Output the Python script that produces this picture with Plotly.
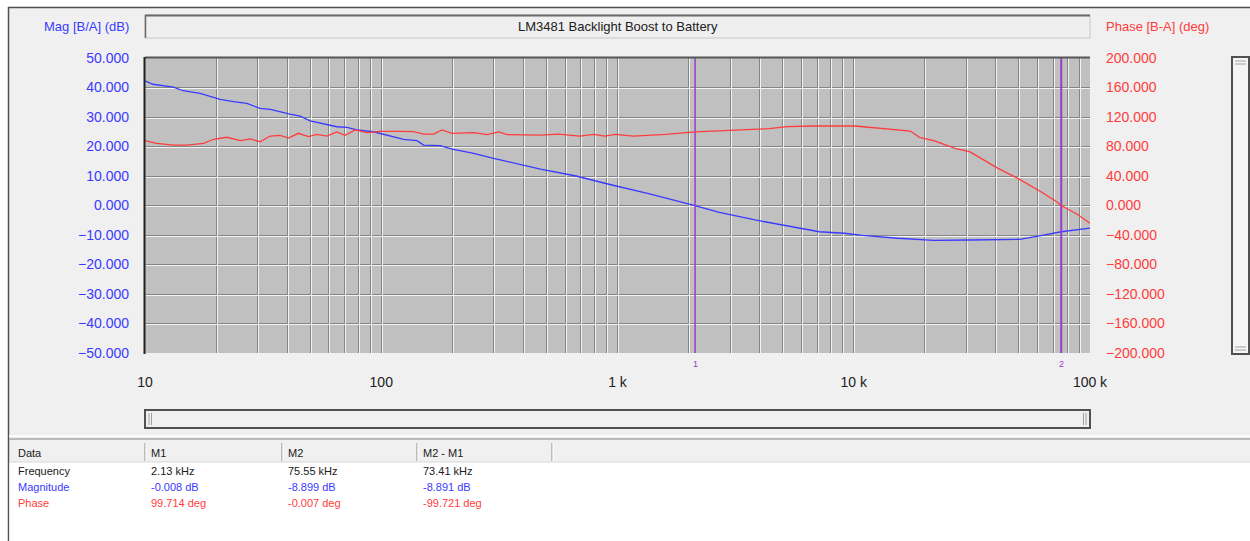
import numpy as np
import plotly.graph_objects as go

# magnitude curve (Hz, dB)
mag_freq = [10, 10.8, 13.2, 14.5, 17.1, 20.8, 23.7, 27.0, 30.7, 33.9, 41.1, 45.4, 50.0, 58.9,
            64.9, 71.6, 78.9, 92.7, 105.7, 124.3, 141.6, 151.1, 177.8, 199.4, 246.2, 299.2,
            472, 668, 947, 1340, 2130, 2698, 3820, 5410, 7150, 9120, 10860, 15350, 21810,
            30900, 50350, 61970, 75550, 100000]
mag_db = [42.3, 41.1, 40.1, 38.9, 38.0, 36.0, 35.2, 34.6, 32.9, 32.6, 31.0, 30.3, 28.7, 27.6,
          26.7, 26.5, 25.6, 25.0, 23.9, 22.4, 22.0, 20.5, 20.3, 19.1, 17.7, 16.0,
          12.3, 10.0, 6.95, 4.1, -0.01, -2.3, -4.9, -7.2, -8.9, -9.4, -10.1, -11.1, -11.8,
          -11.7, -11.5, -10.2, -8.9, -7.7]

# phase curve (Hz, deg)
ph_freq = [10, 11.2, 13.2, 15.0, 17.7, 19.5, 22.2, 25.3, 27.9, 30.7, 33.9, 37.3, 40.5, 44.6,
           49.2, 53.4, 58.9, 64.9, 70.3, 77.6, 86.9, 99.1, 120.5, 137.1, 151.1, 166.7, 180.8,
           199.4, 246.2, 280.5, 314.2, 341.1, 472, 562, 692, 796, 883, 981, 1167, 1596, 2130,
           3097, 4386, 5222, 6666, 10140, 12480, 17380, 18970, 21810, 26850, 30900, 40830,
           50350, 61970, 71290, 75550, 87900, 100000]
ph_deg = [87.9, 84.3, 82.0, 82.0, 84.3, 89.8, 92.5, 87.9, 90.2, 86.5, 94.2, 95.2, 91.5, 97.9,
          93.3, 96.5, 94.2, 99.7, 95.2, 102.4, 98.8, 100.6, 100.6, 100.1, 96.9, 96.9, 102.4,
          97.9, 98.8, 96.0, 99.7, 96.0, 95.5, 96.9, 94.2, 96.5, 94.2, 96.5, 94.2, 96.5, 99.7,
          102.4, 104.2, 106.9, 107.8, 107.8, 105.1, 101.0, 92.5, 87.9, 77.5, 73.0, 50.4,
          35.5, 18.7, 6.5, -0.0, -11.5, -24.1]

marker_freq = [2130, 75550]
marker_names = ['1', '2']

x_labels = {10: '10', 100: '100', 1000: '1 k', 10000: '10 k', 100000: '100 k'}

table_header = ['Data', 'M1', 'M2', 'M2 - M1']
table_rows = [
    ['Frequency', '2.13 kHz', '75.55 kHz', '73.41 kHz'],
    ['Magnitude', '-0.008 dB', '-8.899 dB', '-8.891 dB'],
    ['Phase', '99.714 deg', '-0.007 deg', '-99.721 deg'],
]

BLUE = '#3a3aff'
RED = '#ff3c3c'
PURPLE = '#9b3cc8'
FONT = 'Liberation Sans'

# plot area in pixels
PL, PR, PT, PB = 145, 1090, 58, 353
W, H = PR - PL, PB - PT


def px(x):
    return (x - PL) / W


def py(y):
    return (PB - y) / H


grid_vals = [m * 10 ** d for d in range(1, 5) for m in range(1, 10)] + [100000]
grid_text = [x_labels.get(v, '') for v in grid_vals]

fig = go.Figure()
fig.add_scatter(x=mag_freq, y=mag_db, mode='lines', line=dict(color=BLUE, width=1.3),
                showlegend=False, hoverinfo='skip')
fig.add_scatter(x=ph_freq, y=ph_deg, mode='lines', line=dict(color=RED, width=1.3),
                yaxis='y2', showlegend=False, hoverinfo='skip')
for f, w in zip(marker_freq, [1.5, 2]):
    fig.add_scatter(x=[f, f], y=[-50, 50], mode='lines', line=dict(color=PURPLE, width=w),
                    showlegend=False, hoverinfo='skip')
# empty trace so the offset "emboss" grid axes get drawn
fig.add_scatter(x=[], y=[], xaxis='x3', yaxis='y3', showlegend=False)

for f, n in zip(marker_freq, marker_names):
    fig.add_annotation(x=np.log10(f), xref='x', y=py(364), yref='paper', text=n,
                       xanchor='center', yanchor='middle',
                       showarrow=False, font=dict(family=FONT, size=9, color=PURPLE))

shapes = []
# white page strips outside the window frame
shapes.append(dict(type='rect', xref='paper', yref='paper', x0=px(0), x1=px(1250),
                   y0=py(7), y1=py(-5), fillcolor='white', line_width=0))
shapes.append(dict(type='rect', xref='paper', yref='paper', x0=px(-5), x1=px(8),
                   y0=py(545), y1=py(7), fillcolor='white', line_width=0))
shapes.append(dict(type='line', xref='paper', yref='paper', x0=px(8), x1=px(1250),
                   y0=py(7.5), y1=py(7.5), line=dict(color='#505050', width=1.5)))
shapes.append(dict(type='line', xref='paper', yref='paper', x0=px(8.5), x1=px(8.5),
                   y0=py(7), y1=py(541), line=dict(color='#505050', width=1.5)))
# title box
shapes.append(dict(type='rect', xref='paper', yref='paper', x0=0, x1=1, y0=py(38), y1=py(15),
                   fillcolor='#efefef', line=dict(color='#c8c8c8', width=1)))
shapes.append(dict(type='line', xref='paper', yref='paper', x0=0, x1=1, y0=py(15.5), y1=py(15.5),
                   line=dict(color='#6a6a6a', width=2)))
shapes.append(dict(type='line', xref='paper', yref='paper', x0=px(145.5), x1=px(145.5),
                   y0=py(15), y1=py(38), line=dict(color='#6a6a6a', width=1.5)))
# sunken plot border (dark top/left)
shapes.append(dict(type='line', xref='paper', yref='paper', x0=0, x1=1, y0=py(57.5), y1=py(57.5),
                   line=dict(color='#555555', width=2)))
shapes.append(dict(type='line', xref='paper', yref='paper', x0=px(144.5), x1=px(144.5),
                   y0=py(57), y1=py(354), line=dict(color='#202020', width=2)))
# vertical scrollbar
shapes.append(dict(type='rect', xref='paper', yref='paper', x0=px(1232), x1=px(1249),
                   y0=py(354), y1=py(57), fillcolor='#f5f5f5', line=dict(color='#505050', width=2)))
for yy in (61, 64, 347, 350):
    shapes.append(dict(type='line', xref='paper', yref='paper', x0=px(1235), x1=px(1246),
                       y0=py(yy), y1=py(yy), line=dict(color='#a0a0a0', width=1)))
# horizontal scrollbar
shapes.append(dict(type='rect', xref='paper', yref='paper', x0=0, x1=1,
                   y0=py(428), y1=py(410), fillcolor='#f0f0f0', line=dict(color='#505050', width=2)))
for xx in (149, 151.5, 1083.5, 1086):
    shapes.append(dict(type='line', xref='paper', yref='paper', x0=px(xx), x1=px(xx),
                       y0=py(425), y1=py(413), line=dict(color='#a0a0a0', width=1)))
# data table
shapes.append(dict(type='line', xref='paper', yref='paper', x0=px(9), x1=px(1250),
                   y0=py(436), y1=py(436), line=dict(color='#fbfbfb', width=2)))
shapes.append(dict(type='line', xref='paper', yref='paper', x0=px(9), x1=px(1250),
                   y0=py(439), y1=py(439), line=dict(color='#a8a8a8', width=1.5)))
shapes.append(dict(type='rect', xref='paper', yref='paper', x0=px(9.5), x1=px(1250),
                   y0=py(541), y1=py(462), fillcolor='white', line_width=0))
shapes.append(dict(type='line', xref='paper', yref='paper', x0=px(9), x1=px(1250),
                   y0=py(462), y1=py(462), line=dict(color='#d8d8d8', width=1)))
for xx in (145, 282, 417, 552):
    shapes.append(dict(type='line', xref='paper', yref='paper', x0=px(xx), x1=px(xx),
                       y0=py(461), y1=py(443), line=dict(color='#8a8a8a', width=1)))
    shapes.append(dict(type='line', xref='paper', yref='paper', x0=px(xx + 1), x1=px(xx + 1),
                       y0=py(461), y1=py(443), line=dict(color='#ffffff', width=1)))

col_x = [16, 149, 286, 421]
for cx, t in zip(col_x, table_header):
    fig.add_annotation(x=px(cx), y=py(453), xref='paper', yref='paper', text=t, showarrow=False,
                       xanchor='left', yanchor='middle',
                       font=dict(family=FONT, size=11, color='#202020'))
row_colors = ['#202020', BLUE, RED]
for ri, (row, c) in enumerate(zip(table_rows, row_colors)):
    for cx, t in zip(col_x, row):
        fig.add_annotation(x=px(cx), y=py(471 + 16 * ri), xref='paper', yref='paper', text=t,
                           showarrow=False, xanchor='left', yanchor='middle',
                           font=dict(family=FONT, size=11, color=c))

# header texts
fig.add_annotation(x=0.5, y=py(26.5), xref='paper', yref='paper', showarrow=False,
                   xanchor='center', yanchor='middle',
                   text='LM3481 Backlight Boost to Battery',
                   font=dict(family=FONT, size=13, color='#202020'))
fig.add_annotation(x=px(131), y=py(26.5), xref='paper', yref='paper', showarrow=False,
                   xanchor='right', yanchor='middle', text='Mag [B/A] (dB)',
                   font=dict(family=FONT, size=13, color=BLUE))
fig.add_annotation(x=px(1104), y=py(26.5), xref='paper', yref='paper', showarrow=False,
                   xanchor='left', yanchor='middle', text='Phase [B-A] (deg)',
                   font=dict(family=FONT, size=13, color=RED))

GRID_DARK = '#858585'
GRID_LIGHT = '#f2f2f2'
fig.update_layout(
    width=1250, height=541,
    margin=dict(l=PL, r=1250 - PR, t=PT, b=541 - PB, autoexpand=False),
    paper_bgcolor='#f0f0f0', plot_bgcolor='#c0c0c0',
    font=dict(family=FONT),
    shapes=shapes,
    xaxis=dict(type='log', range=[1, 5], tickvals=grid_vals, ticktext=grid_text, ticks='',
               showgrid=True, gridcolor=GRID_DARK, gridwidth=1, zeroline=False, showline=False,
               tickfont=dict(size=14, color='#202020'), ticklabelstandoff=19, fixedrange=True),
    xaxis3=dict(type='log', overlaying='x', range=[1 - 4 / W, 5 - 4 / W], tickvals=grid_vals,
                showticklabels=False, ticks='', showgrid=True, gridcolor=GRID_LIGHT,
                zeroline=False, showline=False, anchor='y3'),
    yaxis=dict(range=[-50, 50], dtick=10, tick0=0, tickformat='.3f', ticks='',
               showgrid=True, gridcolor=GRID_DARK, zeroline=False, showline=False,
               tickfont=dict(size=14, color=BLUE), ticklabelstandoff=15, fixedrange=True),
    yaxis2=dict(range=[-200, 200], dtick=40, tick0=0, tickformat='.3f', ticks='',
                overlaying='y', side='right', showgrid=False, zeroline=False, showline=False,
                tickfont=dict(size=14, color=RED), ticklabelstandoff=15, fixedrange=True),
    yaxis3=dict(range=[-50 + 100 / H, 50 + 100 / H], dtick=10, tick0=0, overlaying='y',
                showticklabels=False, ticks='', showgrid=True, gridcolor=GRID_LIGHT,
                zeroline=False, showline=False),
)

# drop the default page margin so the figure sits at the window's top-left corner
fig.write_html('out.html', config={'displayModeBar': False},
               post_script="document.body.style.margin='0';")
